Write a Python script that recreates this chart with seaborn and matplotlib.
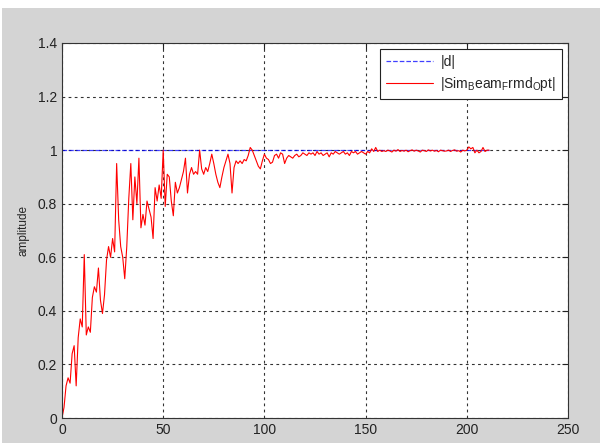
import matplotlib
matplotlib.use("Agg")
import matplotlib.pyplot as plt
from matplotlib.patches import Rectangle
import seaborn as sns
import numpy as np

# values, one sample per step
sim_vals = [
    0.00, 0.04, 0.12, 0.15, 0.13, 0.24, 0.27, 0.12, 0.30, 0.37,
    0.34, 0.61, 0.31, 0.34, 0.32, 0.45, 0.49, 0.47, 0.56, 0.44,
    0.39, 0.46, 0.59, 0.64, 0.60, 0.67, 0.62, 0.95, 0.74, 0.64,
    0.60, 0.52, 0.64, 0.82, 0.95, 0.74, 0.90, 0.80, 0.97, 0.71,
    0.76, 0.72, 0.81, 0.78, 0.75, 0.67, 0.86, 0.81, 0.87, 0.82,
    1.00, 0.79, 0.91, 0.90, 0.81, 0.755, 0.88, 0.84, 0.86, 0.89,
    0.92, 0.97, 0.84, 0.91, 0.935, 0.91, 0.92, 0.91, 1.00, 0.93,
    0.91, 0.935, 0.92, 0.95, 0.985, 0.95, 0.91, 0.88, 0.86, 0.90,
    0.935, 0.96, 0.985, 0.95, 0.84, 0.935, 0.96, 0.95, 0.96, 0.95,
    0.965, 0.96, 0.98, 1.01, 1.00, 0.98, 0.96, 0.94, 0.93, 0.96,
    0.985, 0.97, 0.965, 0.95, 0.955, 0.98, 0.985, 0.97, 0.99, 0.985,
    0.95, 0.97, 0.98, 0.975, 0.97, 0.98, 0.985, 0.975, 0.98, 0.99,
    0.985, 0.98, 0.99, 0.985, 0.99, 0.98, 0.995, 0.985, 0.99, 0.98,
    0.985, 0.99, 0.975, 0.99, 0.985, 0.995, 0.99, 0.985, 0.99, 0.995,
    0.985, 0.99, 0.98, 0.995, 0.99, 0.995, 0.985, 0.99, 0.995, 0.99,
    0.985, 0.995, 0.99, 1.005, 0.995, 1.01, 0.995, 1.00, 0.995, 0.998,
    0.995, 1.00, 0.997, 0.993, 1.00, 0.996, 1.002, 0.995, 0.999, 0.996,
    1.00, 0.994, 0.998, 1.001, 0.996, 1.00, 0.997, 0.993, 1.00, 0.998,
    0.995, 1.001, 0.997, 1.00, 0.996, 0.999, 0.994, 1.00, 0.998, 0.996,
    0.997, 1.00, 0.995, 0.999, 1.001, 0.996, 0.998, 0.993, 1.00, 0.997,
    1.00, 1.012, 1.005, 1.01, 0.99, 1.00, 0.99, 0.995, 1.01, 0.995,
    1.00, 1.00,
]
steps = list(range(len(sim_vals)))
ref_vals = [1.0] * len(sim_vals)

sns.set_style("white")
plt.rcParams['font.family'] = ['Liberation Sans', 'DejaVu Sans']
plt.rcParams['mathtext.default'] = 'regular'

fig = plt.figure(figsize=(6, 4.43), dpi=100, facecolor='white')
fig.patches.append(Rectangle((0.004, 0), 0.996, 1 - 8 / 443, transform=fig.transFigure,
                             facecolor='#d4d4d4', edgecolor='none', zorder=-10))
ax = fig.add_axes([62 / 600, 1 - 418 / 443, 506 / 600, 375 / 443])
ax.set_facecolor('white')

sns.lineplot(x=steps, y=ref_vals, ax=ax, color='#0000ff', linestyle='--', linewidth=0.9,
             alpha=0.75, label='|d|')
sns.lineplot(x=steps, y=sim_vals, ax=ax, color='#ff0000', linewidth=0.8,
             label=r'|Sim$_B$eam$_F$rmd$_O$pt|')

ax.set_xlim(0, 250)
ax.set_ylim(0, 1.4)
ax.set_xticks([0, 50, 100, 150, 200, 250])
ax.set_yticks([0, 0.2, 0.4, 0.6, 0.8, 1, 1.2, 1.4])
ax.set_yticklabels(['0', '0.2', '0.4', '0.6', '0.8', '1', '1.2', '1.4'])
ax.grid(True, color='black', linestyle=(0, (2.5, 3)), linewidth=0.8, alpha=0.8)
ax.tick_params(direction='in', top=True, right=True, length=4, labelsize=10,
               colors='#222222')
for sp in ax.spines.values():
    sp.set_color('#333333')
    sp.set_linewidth(0.8)
ax.set_ylabel('amplitude', fontsize=8.5, labelpad=6)

leg = ax.legend(loc='upper right', fontsize=10, frameon=True, fancybox=False,
                borderaxespad=0.4, handlelength=3.4, handletextpad=0.5,
                borderpad=0.45, labelspacing=0.45)
leg.get_frame().set_edgecolor('#222222')
leg.get_frame().set_linewidth(0.8)
leg.get_frame().set_alpha(1)

fig.savefig('out.png', dpi=100, facecolor=fig.get_facecolor())
